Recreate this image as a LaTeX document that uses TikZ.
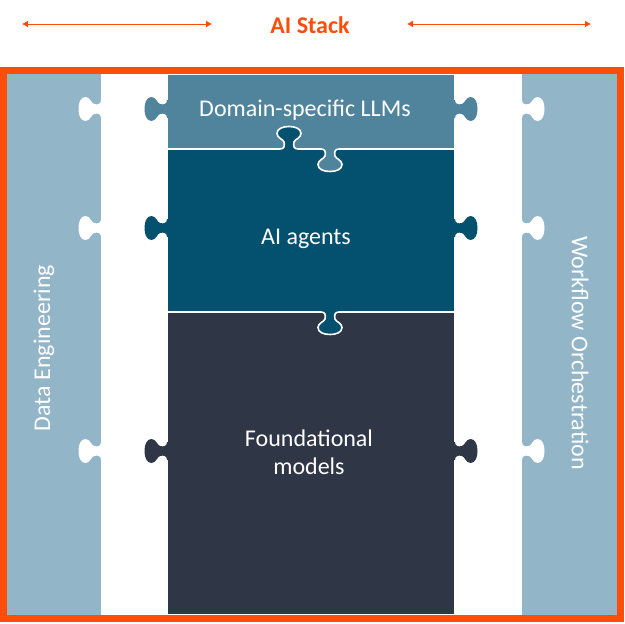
\documentclass[tikz,border=0pt]{standalone}
\usepackage{fontspec}
\setmainfont{Carlito}
\usetikzlibrary{arrows.meta}
\definecolor{aiorange}{HTML}{FC4E0A}
\definecolor{sidecol}{HTML}{92B6C8}
\definecolor{domaincol}{HTML}{4F849C}
\definecolor{agentcol}{HTML}{04506F}
\definecolor{foundcol}{HTML}{2F3645}
\tikzset{
  pics/knob/.style={code={
    \fill[#1] (-9,-2.5) -- (-9,0) .. controls (-5,0) and (-4,3) .. (-5,7)
      .. controls (-6,10) and (-12,11) .. (-12,15.5) .. controls (-12,20.5) and (-6,22.5) .. (0,22.5)
      .. controls (6,22.5) and (12,20.5) .. (12,15.5) .. controls (12,11) and (6,10) .. (5,7)
      .. controls (4,3) and (5,0) .. (9,0) -- (9,-2.5) -- cycle;
  }},
  pics/knobline/.style={code={
    \fill[#1] (-9,-2.5) -- (-9,0) .. controls (-5,0) and (-4,3) .. (-5,7)
      .. controls (-6,10) and (-12,11) .. (-12,15.5) .. controls (-12,20.5) and (-6,22.5) .. (0,22.5)
      .. controls (6,22.5) and (12,20.5) .. (12,15.5) .. controls (12,11) and (6,10) .. (5,7)
      .. controls (4,3) and (5,0) .. (9,0) -- (9,-2.5) -- cycle;
    \draw[white,line width=1.6pt] (-14,0) -- (-9,0) .. controls (-5,0) and (-4,3) .. (-5,7)
      .. controls (-6,10) and (-12,11) .. (-12,15.5) .. controls (-12,20.5) and (-6,22.5) .. (0,22.5)
      .. controls (6,22.5) and (12,20.5) .. (12,15.5) .. controls (12,11) and (6,10) .. (5,7)
      .. controls (4,3) and (5,0) .. (9,0) -- (14,0);
  }},
  piece/.style={draw=white,line width=1.6pt},
  label/.style={text=white,font=\fontsize{24}{28}\selectfont,align=center},
  arr/.style={draw=aiorange,line width=0.9pt,{Latex[length=6pt,width=7pt]}-{Latex[length=6pt,width=7pt]}}
}
\begin{document}
\begin{tikzpicture}[x=1pt,y=-1pt]
\useasboundingbox (0,0) rectangle (625,624);
% side columns
\fill[sidecol] (7,74) rectangle (101,615);
\fill[sidecol] (522,74) rectangle (617,615);
\foreach \yy in {109,228,451} {
  \pic[rotate=-90] at (101,\yy) {knob=white};
  \pic[rotate=90] at (522,\yy) {knob=white};
}
% centre pieces
\path[piece,fill=foundcol] (167,312) rectangle (455,615);
\path[piece,fill=agentcol] (167,149) rectangle (455,312);
\path[piece,fill=domaincol] (167,74) rectangle (455,149);
% side knobs
\pic[rotate=-90] at (167,109) {knob=domaincol};
\pic[rotate=90] at (455,109) {knob=domaincol};
\pic[rotate=-90] at (167,228) {knob=agentcol};
\pic[rotate=90] at (455,228) {knob=agentcol};
\pic[rotate=-90] at (167,451) {knob=foundcol};
\pic[rotate=90] at (455,451) {knob=foundcol};
% horizontal knobs
\pic[rotate=180] at (289,149) {knobline=agentcol};
\pic at (330,149) {knobline=domaincol};
\pic at (330,312) {knobline=agentcol};
% frame
\draw[aiorange,line width=7pt] (3.5,70.5) rectangle (620.5,618.5);
% texts
\node[text=aiorange,font=\fontsize{24}{28}\selectfont\bfseries] (title) at (310,25) {AI Stack};
\coordinate (la) at (22,24);
\coordinate (lb) at (212,24);
\coordinate (ra) at (407,24);
\coordinate (rb) at (591,24);
\draw[arr] (la) -- (lb);
\draw[arr] (ra) -- (rb);
\node[label] (domain) at (305,110) {Domain-specific LLMs};
\node[label] (agents) at (306,239) {AI agents};
\node[label] (found) at (309,452) {Foundational\\models};
\node[label,rotate=90] (data) at (44,348) {Data Engineering};
\node[label,rotate=-90] (flow) at (580,353) {Workflow Orchestration};
\end{tikzpicture}
\end{document}
